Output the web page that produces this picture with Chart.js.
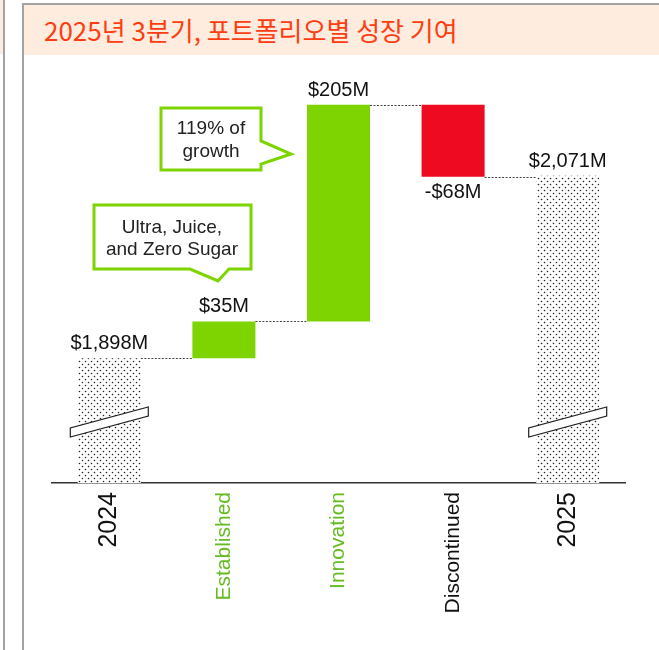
<!DOCTYPE html>
<html>
<head>
<meta charset="utf-8">
<script src="https://cdn.jsdelivr.net/npm/chart.js@4.4.1/dist/chart.umd.min.js"></script>
<style>
html, body { margin: 0; padding: 0; background: #fff; }
body { width: 659px; height: 650px; position: relative; overflow: hidden; }
.side { position: absolute; left: 0; top: 0; width: 3px; height: 54px; background: #feeddf; }
.sideline { position: absolute; left: 3px; top: 0; width: 2px; height: 650px; background: #a3a3a3; }
.box { position: absolute; left: 22px; top: 3px; width: 640px; height: 660px; border-left: 2px solid #a3a3a3; border-top: 2px solid #a3a3a3; }
.head { height: 50px; background: #feeddf; }
.head h1 { margin: 0; padding-left: 20px; font: normal 26px "Noto Sans CJK KR", sans-serif; line-height: 50px; color: #ff3d12; }
canvas { position: absolute; left: 0; top: 0; }
</style>
</head>
<body>
<div class="side"></div>
<div class="sideline"></div>
<div class="box"><div class="head"><h1>2025년 3분기, 포트폴리오별 성장 기여</h1></div></div>
<canvas id="chart" width="659" height="650"></canvas>
<script>
const categories = ['2024', 'Established', 'Innovation', 'Discontinued', '2025'];
const changes = [1898, 35, 205, -68, 2071];
const isTotal = [true, false, false, false, true];
const tickColors = ['#111', '#66bb22', '#66bb22', '#111', '#111'];
const tickSizes = [25, 21, 21, 21, 25];
const yMin = 1780;
const yMax = 2171;

const green = '#7dd400';
const red = '#ee0a20';

// dotted fill for the total bars
function dotPattern() {
    const c = document.createElement('canvas');
    c.width = 6; c.height = 6;
    const p = c.getContext('2d');
    p.fillStyle = '#fff';
    p.fillRect(0, 0, 6, 6);
    p.fillStyle = '#222';
    p.beginPath();
    p.arc(1.5, 1.5, 0.8, 0, Math.PI * 2);
    p.arc(4.5, 4.5, 0.8, 0, Math.PI * 2);
    p.fill();
    return p.createPattern(c, 'repeat');
}

// running totals -> floating bars
let run = 0;
const floats = changes.map((v, i) => {
    if (isTotal[i]) { run = v; return [yMin, v]; }
    const start = run;
    run += v;
    return [start, run];
});

const dots = dotPattern();
const colors = changes.map((v, i) => isTotal[i] ? dots : (v < 0 ? red : green));

const fmt = v => (v < 0 ? '-' : '') + '$' + Math.abs(v).toLocaleString('en-US') + 'M';

function callout(ctx, pts, lines, cx, baselines) {
    ctx.beginPath();
    pts.forEach((p, i) => i ? ctx.lineTo(p[0], p[1]) : ctx.moveTo(p[0], p[1]));
    ctx.closePath();
    ctx.fillStyle = '#fff';
    ctx.fill();
    ctx.lineWidth = 3;
    ctx.lineJoin = 'miter';
    ctx.strokeStyle = green;
    ctx.stroke();
    ctx.fillStyle = '#222';
    ctx.font = '19px "Liberation Sans", Arial, sans-serif';
    ctx.textAlign = 'center';
    ctx.textBaseline = 'alphabetic';
    lines.forEach((t, i) => ctx.fillText(t, cx, baselines[i]));
}

const waterfallExtras = {
    id: 'waterfallExtras',
    afterDatasetsDraw(chart) {
        const ctx = chart.ctx;
        const meta = chart.getDatasetMeta(0);
        const y = chart.scales.y;
        const area = chart.chartArea;
        ctx.save();

        // connectors
        ctx.setLineDash([2, 1.5]);
        ctx.strokeStyle = '#444';
        ctx.lineWidth = 1;
        for (let i = 0; i < meta.data.length - 1; i++) {
            const a = meta.data[i], b = meta.data[i + 1];
            const py = Math.round(y.getPixelForValue(floats[i][1])) + 0.5;
            ctx.beginPath();
            ctx.moveTo(a.x + a.width / 2, py);
            ctx.lineTo(b.x - b.width / 2, py);
            ctx.stroke();
        }
        ctx.setLineDash([]);

        // axis break marks
        meta.data.forEach((bar, i) => {
            if (!isTotal[i]) return;
            const l = bar.x - 39, r = bar.x + 39, b = area.bottom;
            ctx.beginPath();
            ctx.moveTo(l, b - 46);
            ctx.lineTo(l, b - 55);
            ctx.lineTo(r, b - 76);
            ctx.lineTo(r, b - 67);
            ctx.closePath();
            ctx.fillStyle = '#fff';
            ctx.fill();
            ctx.strokeStyle = '#222';
            ctx.lineWidth = 1.2;
            ctx.stroke();
        });

        // value labels
        ctx.font = '20px "Liberation Sans", Arial, sans-serif';
        ctx.fillStyle = '#111';
        ctx.textAlign = 'center';
        meta.data.forEach((bar, i) => {
            const top = Math.min(bar.y, bar.base), bottom = Math.max(bar.y, bar.base);
            if (changes[i] < 0) {
                ctx.textBaseline = 'top';
                ctx.fillText(fmt(changes[i]), bar.x, bottom + 6);
            } else {
                ctx.textBaseline = 'alphabetic';
                ctx.fillText(fmt(changes[i]), bar.x, top - 9);
            }
        });

        // callouts
        callout(ctx, [[161, 108], [261, 108], [261, 141], [291, 154], [261, 164], [261, 170], [161, 170]],
            ['119% of', 'growth'], 211, [134, 157]);
        callout(ctx, [[94, 205], [251, 205], [251, 269], [229, 269], [218, 281], [190, 269], [94, 269]],
            ['Ultra, Juice,', 'and Zero Sugar'], 172, [233, 255]);

        ctx.restore();
    }
};

Chart.defaults.font.family = '"Liberation Sans", Arial, sans-serif';

new Chart(document.getElementById('chart'), {
    type: 'bar',
    data: {
        labels: categories,
        datasets: [{
            data: floats,
            backgroundColor: colors,
            borderWidth: 0,
            barPercentage: 0.55,
            categoryPercentage: 1
        }]
    },
    options: {
        responsive: false,
        animation: false,
        layout: { padding: { left: 52, right: 34, top: 70, bottom: 0 } },
        plugins: { legend: { display: false }, tooltip: { enabled: false } },
        scales: {
            x: {
                z: 1,
                grid: { display: false, drawTicks: false },
                border: { display: true, color: '#333', width: 1.5 },
                ticks: {
                    autoSkip: false,
                    minRotation: 90,
                    maxRotation: 90,
                    padding: 9,
                    color: ctx => tickColors[ctx.index],
                    font: ctx => ({ size: tickSizes[ctx.index] })
                },
                afterFit: scale => { scale.height = 167; }
            },
            y: { display: false, min: yMin, max: yMax }
        }
    },
    plugins: [waterfallExtras]
});
</script>
</body>
</html>
